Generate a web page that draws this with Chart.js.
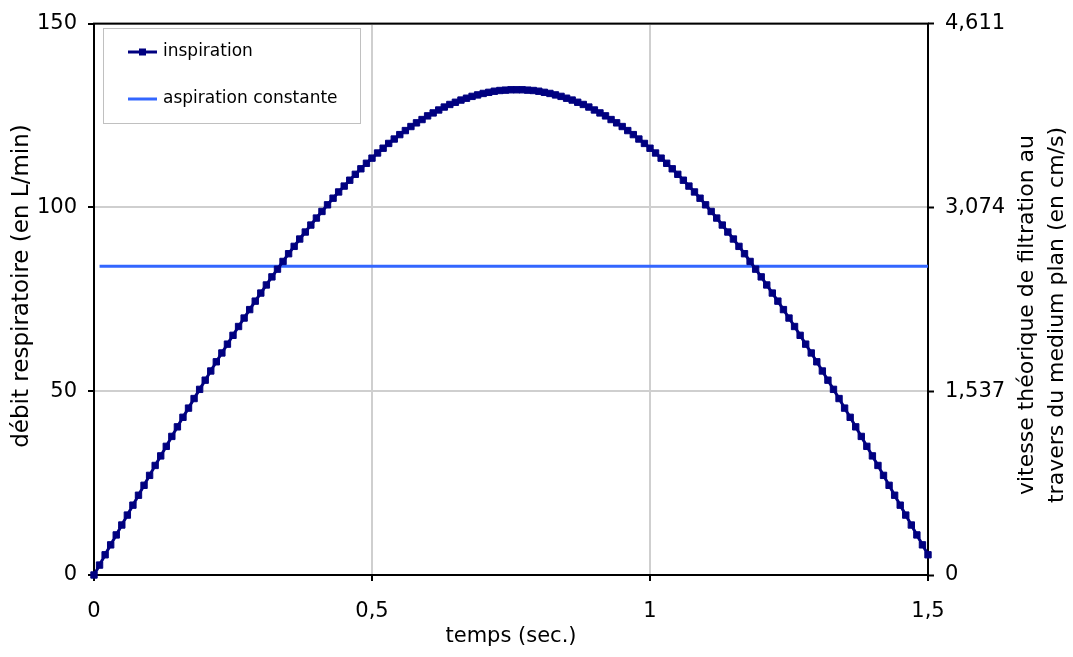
<!DOCTYPE html>
<html>
<head>
<meta charset="utf-8">
<script src="https://cdn.jsdelivr.net/npm/chart.js"></script>
<style>
  html, body { margin: 0; padding: 0; background: #fff; }
</style>
</head>
<body>
<canvas id="myChart" width="1073" height="657"></canvas>
<script>
"use strict"
// temps (sec.) - un point toutes les 0,01 s
const temps = [
  0, 0.01, 0.02, 0.03, 0.04, 0.05, 0.06, 0.07, 0.08, 0.09,
  0.1, 0.11, 0.12, 0.13, 0.14, 0.15, 0.16, 0.17, 0.18, 0.19,
  0.2, 0.21, 0.22, 0.23, 0.24, 0.25, 0.26, 0.27, 0.28, 0.29,
  0.3, 0.31, 0.32, 0.33, 0.34, 0.35, 0.36, 0.37, 0.38, 0.39,
  0.4, 0.41, 0.42, 0.43, 0.44, 0.45, 0.46, 0.47, 0.48, 0.49,
  0.5, 0.51, 0.52, 0.53, 0.54, 0.55, 0.56, 0.57, 0.58, 0.59,
  0.6, 0.61, 0.62, 0.63, 0.64, 0.65, 0.66, 0.67, 0.68, 0.69,
  0.7, 0.71, 0.72, 0.73, 0.74, 0.75, 0.76, 0.77, 0.78, 0.79,
  0.8, 0.81, 0.82, 0.83, 0.84, 0.85, 0.86, 0.87, 0.88, 0.89,
  0.9, 0.91, 0.92, 0.93, 0.94, 0.95, 0.96, 0.97, 0.98, 0.99,
  1, 1.01, 1.02, 1.03, 1.04, 1.05, 1.06, 1.07, 1.08, 1.09,
  1.1, 1.11, 1.12, 1.13, 1.14, 1.15, 1.16, 1.17, 1.18, 1.19,
  1.2, 1.21, 1.22, 1.23, 1.24, 1.25, 1.26, 1.27, 1.28, 1.29,
  1.3, 1.31, 1.32, 1.33, 1.34, 1.35, 1.36, 1.37, 1.38, 1.39,
  1.4, 1.41, 1.42, 1.43, 1.44, 1.45, 1.46, 1.47, 1.48, 1.49,
  1.5
]

// débit respiratoire (L/min)
const inspiration = [
  0, 2.7, 5.5, 8.2, 10.9, 13.6, 16.3, 19.0, 21.7, 24.4,
  27.1, 29.8, 32.4, 35.0, 37.7, 40.3, 42.9, 45.4, 48.0, 50.5,
  53.0, 55.5, 58.0, 60.4, 62.8, 65.2, 67.6, 69.9, 72.2, 74.5,
  76.7, 78.9, 81.1, 83.2, 85.3, 87.4, 89.4, 91.4, 93.3, 95.2,
  97.1, 98.9, 100.7, 102.5, 104.2, 105.8, 107.4, 109.0, 110.5, 112.0,
  113.4, 114.8, 116.1, 117.4, 118.6, 119.8, 120.9, 122.0, 123.0, 123.9,
  124.9, 125.7, 126.5, 127.3, 128.0, 128.6, 129.2, 129.7, 130.2, 130.6,
  131.0, 131.3, 131.6, 131.8, 131.9, 132.0, 132.0, 132.0, 131.9, 131.8,
  131.6, 131.3, 131.0, 130.6, 130.2, 129.7, 129.2, 128.6, 128.0, 127.3,
  126.5, 125.7, 124.9, 123.9, 123.0, 122.0, 120.9, 119.8, 118.6, 117.4,
  116.1, 114.8, 113.4, 112.0, 110.5, 109.0, 107.4, 105.8, 104.2, 102.5,
  100.7, 98.9, 97.1, 95.2, 93.3, 91.4, 89.4, 87.4, 85.3, 83.2,
  81.1, 78.9, 76.7, 74.5, 72.2, 69.9, 67.6, 65.2, 62.8, 60.4,
  58.0, 55.5, 53.0, 50.5, 48.0, 45.4, 42.9, 40.3, 37.7, 35.0,
  32.4, 29.8, 27.1, 24.4, 21.7, 19.0, 16.3, 13.6, 10.9, 8.2,
  5.5
]

// aspiration constante (ligne horizontale)
const aspirationTemps = [0.01, 1.5]
const aspiration = [84.0, 84.0]

// graduations
const xTicks = [0, 0.5, 1, 1.5]
const leftTicks = [0, 50, 100, 150]
const rightTicks = [0, 1.537, 3.074, 4.611]

const FONT = "'DejaVu Sans', sans-serif"
const NAVY = '#000080'
const BLEU = '#3366ff'

function virgule(v) { return String(v).replace('.', ',') } // format français

// cadre noir autour de la zone du graphique
const cadre = {
  id: 'cadre',
  beforeDatasetsDraw(chart) {
    const a = chart.chartArea, ctx = chart.ctx
    ctx.save()
    ctx.strokeStyle = '#000'
    ctx.lineWidth = 2
    ctx.strokeRect(a.left, a.top, a.right - a.left, a.bottom - a.top)
    ctx.restore()
  }
}

// légende dans la zone + titres des axes verticaux (lus de bas en haut)
const extras = {
  id: 'extras',
  afterDraw(chart) {
    const ctx = chart.ctx
    ctx.save()
    // boîte de légende
    ctx.fillStyle = '#fff'
    ctx.fillRect(103, 28, 257, 95)
    ctx.strokeStyle = '#c0c0c0'
    ctx.lineWidth = 1
    ctx.strokeRect(103.5, 28.5, 257, 95)
    const rows = [52, 99]
    chart.data.datasets.forEach(function (ds, i) {
      const y = rows[i]
      ctx.strokeStyle = ds.borderColor
      ctx.lineWidth = ds.borderWidth
      ctx.beginPath()
      ctx.moveTo(128, y)
      ctx.lineTo(157, y)
      ctx.stroke()
      if (ds.pointRadius > 0) {
        ctx.fillStyle = ds.borderColor
        ctx.fillRect(139, y - 3.5, 7, 7)
      }
      ctx.fillStyle = '#000'
      ctx.font = '17px ' + FONT
      ctx.textBaseline = 'middle'
      ctx.textAlign = 'left'
      ctx.fillText(ds.label, 163, y)
    })
    ctx.fillStyle = '#000'
    ctx.textAlign = 'center'
    ctx.textBaseline = 'middle'
    // titre axe gauche
    ctx.save()
    ctx.translate(22, 286)
    ctx.rotate(-Math.PI / 2)
    ctx.font = '23px ' + FONT
    ctx.fillText('débit respiratoire (en L/min)', 0, 0)
    ctx.restore()
    // titre axe droit
    ctx.translate(0, 315)
    ctx.rotate(-Math.PI / 2)
    ctx.font = '22px ' + FONT
    ctx.fillText('vitesse théorique de filtration au', 0, 1027)
    ctx.fillText('travers du medium plan (en cm/s)', 0, 1057)
    ctx.restore()
  }
}

const config = {
  type: 'line',
  data: {
    datasets: [{
      label: 'inspiration',
      data: inspiration.map(function (v, i) { return { x: temps[i], y: v } }),
      borderColor: NAVY,
      backgroundColor: NAVY,
      borderWidth: 3,
      pointStyle: 'rect',
      pointRadius: 4.5,
      pointBorderWidth: 1,
      pointBackgroundColor: NAVY,
      pointBorderColor: NAVY,
      tension: 0,
      clip: false,
      yAxisID: 'y'
    }, {
      label: 'aspiration constante',
      data: aspiration.map(function (v, i) { return { x: aspirationTemps[i], y: v } }),
      borderColor: BLEU,
      backgroundColor: BLEU,
      borderWidth: 3,
      pointRadius: 0,
      tension: 0,
      yAxisID: 'y'
    }]
  },
  options: {
    responsive: false,
    animation: false,
    devicePixelRatio: 1,
    layout: { padding: { top: 19, left: 0, right: 0, bottom: 0 } },
    plugins: { legend: { display: false }, tooltip: { enabled: false } },
    scales: {
      x: {
        type: 'linear',
        min: 0, max: 1.5,
        afterBuildTicks: function (s) { s.ticks = xTicks.map(function (v) { return { value: v } }) },
        afterFit: function (s) { s.height = 82 },
        ticks: { color: '#000', font: { family: FONT, size: 21 }, padding: 18, maxRotation: 0, callback: virgule },
        grid: { color: '#cfcfcf', lineWidth: 2, tickColor: '#000', tickLength: 6, tickWidth: 2 },
        border: { display: false },
        title: { display: true, text: 'temps (sec.)', color: '#000', font: { family: FONT, size: 21 }, padding: { top: 0, bottom: 8 } }
      },
      y: {
        position: 'left',
        min: 0, max: 150,
        afterBuildTicks: function (s) { s.ticks = leftTicks.map(function (v) { return { value: v } }) },
        afterFit: function (s) { s.width = 94 },
        ticks: { color: '#000', font: { family: FONT, size: 21 }, padding: 11, callback: virgule },
        grid: { color: '#cfcfcf', lineWidth: 2, tickColor: '#000', tickLength: 6, tickWidth: 2 },
        border: { display: false }
      },
      y1: {
        position: 'right',
        display: true,
        min: 0, max: 4.611,
        afterBuildTicks: function (s) { s.ticks = rightTicks.map(function (v) { return { value: v } }) },
        afterFit: function (s) { s.width = 145 },
        ticks: { color: '#000', font: { family: FONT, size: 21 }, padding: 11, callback: virgule },
        grid: { drawOnChartArea: false, tickColor: '#000', tickLength: 6, tickWidth: 2 },
        border: { display: false }
      }
    }
  },
  plugins: [cadre, extras]
}

const my_chart = new Chart(document.getElementById('myChart'), config)
</script>
</body>
</html>
